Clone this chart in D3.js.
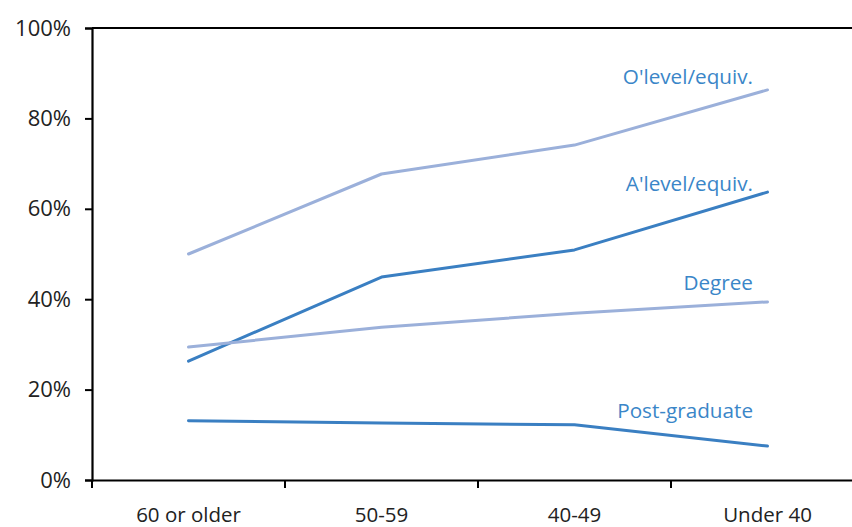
<!DOCTYPE html>
<html>
<head>
<meta charset="utf-8">
<script src="https://cdn.jsdelivr.net/npm/d3@7"></script>
<style>
  body { margin: 0; background: #fff; }
  svg { display: block; }
  svg text { font-family: "Open Sans", "Noto Sans", sans-serif; }
</style>
</head>
<body>
<svg id="chart" width="852" height="527"></svg>
<script>
// Age groups along the x axis
const ageGroups = ["60 or older", "50-59", "40-49", "Under 40"];
// Share (%) by highest qualification
const oLevel = [50.0, 67.7, 74.1, 86.3];
const aLevel = [26.3, 44.9, 50.9, 63.7];
const degree = [29.4, 33.8, 36.9, 39.4];
const postGrad = [13.1, 12.6, 12.2, 7.5];
const yTicks = [0, 20, 40, 60, 80, 100];

const series = [
  { name: "O'level/equiv.", values: oLevel, color: "#9bb0da", labelY: 84 },
  { name: "A'level/equiv.", values: aLevel, color: "#3a7fc2", labelY: 191 },
  { name: "Degree", values: degree, color: "#9bb0da", labelY: 290 },
  { name: "Post-graduate", values: postGrad, color: "#3a7fc2", labelY: 418 }
];

const svg = d3.select("#chart");
const plotLeft = 92, plotRight = 864, plotTop = 28, plotBottom = 480;

const x = d3.scaleBand().domain(ageGroups).range([plotLeft, plotRight]);
const y = d3.scaleLinear().domain([0, 100]).range([plotBottom, plotTop]);

// frame: top edge
svg.append("line")
  .attr("x1", plotLeft).attr("x2", 852)
  .attr("y1", plotTop).attr("y2", plotTop)
  .attr("stroke", "#000").attr("stroke-width", 2);

// y axis
const yAxis = svg.append("g")
  .attr("transform", `translate(${plotLeft},0)`)
  .call(d3.axisLeft(y).tickValues(yTicks).tickFormat(d => d + "%").tickSize(7).tickPadding(14));
yAxis.attr("font-family", null);
yAxis.select(".domain").attr("stroke-width", 2.2);
yAxis.selectAll(".tick line").attr("stroke-width", 2);
yAxis.selectAll(".tick text").attr("font-size", 22).attr("fill", "#222");

// x axis with ticks between categories
const xAxis = svg.append("g")
  .attr("transform", `translate(0,${plotBottom})`)
  .call(d3.axisBottom(x).tickSize(0).tickPadding(27).tickSizeOuter(0));
xAxis.attr("font-family", null);
xAxis.select(".domain").attr("stroke-width", 2.2);
xAxis.selectAll(".tick text").attr("font-size", 20.5).attr("fill", "#222");
const bounds = ageGroups.map(d => x(d));
xAxis.selectAll(".bound").data(bounds).enter().append("line")
  .attr("class", "bound")
  .attr("x1", d => d).attr("x2", d => d)
  .attr("y1", 0).attr("y2", 8)
  .attr("stroke", "#000").attr("stroke-width", 2);

const line = d3.line()
  .x((d, i) => x(ageGroups[i]) + x.bandwidth() / 2)
  .y(d => y(d));

series.forEach(s => {
  svg.append("path")
    .datum(s.values)
    .attr("d", line)
    .attr("fill", "none")
    .attr("stroke", s.color)
    .attr("stroke-width", 3)
    .attr("stroke-linecap", "round")
    .attr("stroke-linejoin", "round");
  svg.append("text")
    .attr("x", 753).attr("y", s.labelY)
    .attr("text-anchor", "end")
    .attr("font-size", 20.7)
    .attr("fill", "#3a86c8")
    .text(s.name);
});
</script>
</body>
</html>
